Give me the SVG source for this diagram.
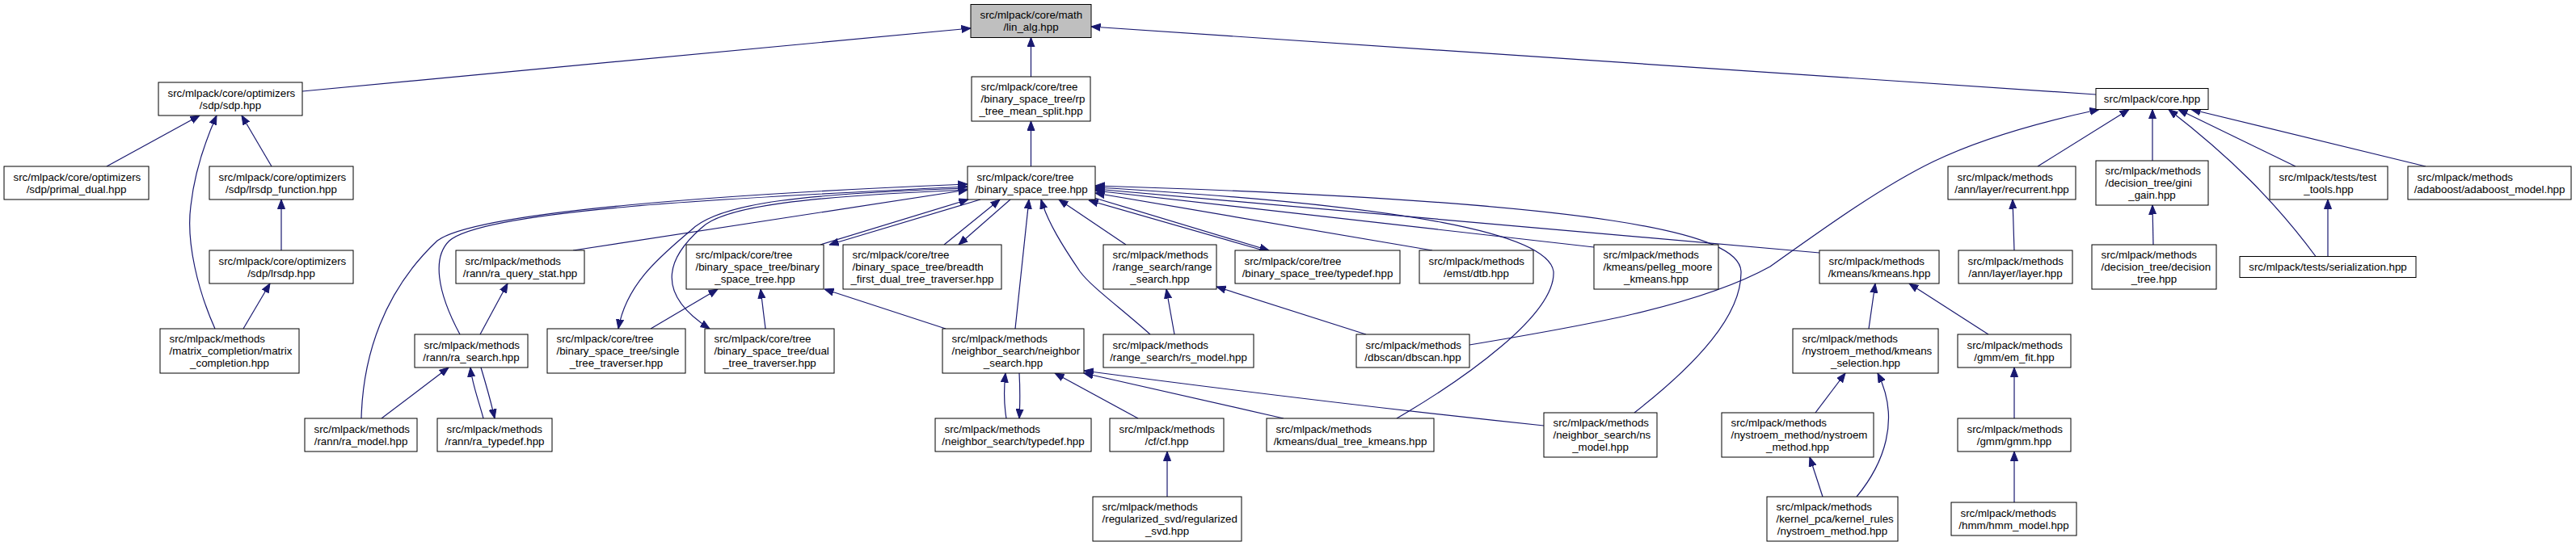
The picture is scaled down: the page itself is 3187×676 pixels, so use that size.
<svg xmlns="http://www.w3.org/2000/svg" width="3187" height="676" viewBox="0 0 3187 676">
<style>
.e{fill:none;stroke:#191970;stroke-width:1.2;marker-end:url(#a)}
rect{fill:#fff;stroke:#000;stroke-width:1}
#lin_alg rect{fill:#bfbfbf}
text{font-family:"Liberation Sans",Helvetica,Arial,sans-serif;font-size:13.33px;fill:#000}
.c{text-anchor:middle}
</style>
<defs>
<marker id="a" viewBox="0 0 12 10" refX="11.5" refY="5" markerWidth="12" markerHeight="10" markerUnits="userSpaceOnUse" orient="auto"><path d="M0,0.5 L11.5,5 L0,9.5 z" fill="#191970" stroke="#191970" stroke-width="1"/></marker>
</defs>
<rect x="0" y="0" width="3187" height="676" style="fill:#fff;stroke:none"/>
<g id="edges">
<path class="e" d="M374,113 L1201,35"/>
<path class="e" d="M1275.5,95 L1275.5,46.5"/>
<path class="e" d="M2593,117 L1350,33"/>
<path class="e" d="M1275.5,206 L1275.5,150"/>
<path class="e" d="M132,206 L247,143"/>
<path class="e" d="M266,407 C245,360 230,300 236,255 C241,210 256,170 268,143"/>
<path class="e" d="M336,206 L299,143"/>
<path class="e" d="M348,310 L348,247"/>
<path class="e" d="M301,407 L334,351"/>
<path class="e" d="M709,310 L1197,235"/>
<path class="e" d="M569,414 C540,360 535,318 556,298 C600,260 900,245 1197,231"/>
<path class="e" d="M447,518 C449,440 475,360 541,298 C590,262 900,240 1197,228"/>
<path class="e" d="M594,414 L628,351"/>
<path class="e" d="M472,518 L555,455"/>
<path class="e" d="M598,518 C592,495 584,475 582,455"/>
<path class="e" d="M595,455 C601,475 607,495 612,518"/>
<path class="e" d="M805,407 L888,358"/>
<path class="e" d="M1197,233 C1000,240 890,250 855,285 C820,315 775,350 765,407"/>
<path class="e" d="M1197,235 C1000,243 895,255 868,282 C830,315 805,360 878,407"/>
<path class="e" d="M947,407 L941,358"/>
<path class="e" d="M1015,303 L1198,247"/>
<path class="e" d="M1213,247 L1026,303"/>
<path class="e" d="M1168,303 L1237,247"/>
<path class="e" d="M1250,247 L1186,303"/>
<path class="e" d="M1256,407 L1273,247"/>
<path class="e" d="M1423,414 C1385,380 1350,355 1336,336 C1315,305 1296,275 1288,247"/>
<path class="e" d="M1393,303 L1310,247"/>
<path class="e" d="M1563,310 L1347,248"/>
<path class="e" d="M1354,245 L1570,310"/>
<path class="e" d="M1772,310 L1355,239"/>
<path class="e" d="M1972,306 L1355,236"/>
<path class="e" d="M2251,313 L1355,234"/>
<path class="e" d="M2022,511 C2100,450 2155,390 2154,336 C2152,290 2000,250 1355,230"/>
<path class="e" d="M1728,518 C1810,470 1925,390 1922,336 C1915,290 1750,255 1355,232"/>
<path class="e" d="M1690,414 L1505,355"/>
<path class="e" d="M1818,427 C1950,405 2100,380 2190,330 C2260,280 2330,230 2392,200 C2450,172 2520,152 2597,135.5"/>
<path class="e" d="M1408,518 L1305,462"/>
<path class="e" d="M1245,518 C1242,500 1242,480 1244,462"/>
<path class="e" d="M1261,462 C1262,480 1262,500 1261,518"/>
<path class="e" d="M1588,518 L1341,462"/>
<path class="e" d="M1910,527 C1700,505 1500,480 1341,459"/>
<path class="e" d="M1170,407 L1020,358"/>
<path class="e" d="M1444,615 L1444,559"/>
<path class="e" d="M1453,414 L1443,358"/>
<path class="e" d="M2312,407 L2320,351"/>
<path class="e" d="M2246,511 L2283,462"/>
<path class="e" d="M2255,615 L2239,566"/>
<path class="e" d="M2297,615 C2330,575 2352,520 2323,462"/>
<path class="e" d="M2460,414 L2362,351"/>
<path class="e" d="M2492,518 L2492,455"/>
<path class="e" d="M2492,622 L2492,559"/>
<path class="e" d="M2492,310 L2490,247"/>
<path class="e" d="M2664,303 L2663,254"/>
<path class="e" d="M2880,317.5 L2880,247"/>
<path class="e" d="M2865,317.5 C2815,250 2760,195 2683,135.5"/>
<path class="e" d="M2521,206 L2634,135.5"/>
<path class="e" d="M2663,199 L2663,135.5"/>
<path class="e" d="M2840,206 L2695,135.5"/>
<path class="e" d="M3001,206 L2711,135.5"/>
</g>
<g id="lin_alg"><rect x="1201" y="5.5" width="149" height="41"/><text x="1212.5" y="23">src/mlpack/core/math</text><text class="c" x="1275.5" y="38">/lin_alg.hpp</text></g>
<g id="sdp"><rect x="196" y="102" width="178" height="41"/><text x="207.5" y="119.5">src/mlpack/core/optimizers</text><text class="c" x="285" y="134.5">/sdp/sdp.hpp</text></g>
<g id="rp_tree"><rect x="1202" y="95" width="147" height="55"/><text x="1213.5" y="112">src/mlpack/core/tree</text><text x="1213.5" y="127">/binary_space_tree/rp</text><text class="c" x="1275.5" y="142">_tree_mean_split.hpp</text></g>
<g id="core"><rect x="2593" y="109.5" width="139" height="26"/><text class="c" x="2662.5" y="127">src/mlpack/core.hpp</text></g>
<g id="primal_dual"><rect x="5" y="206" width="179" height="41"/><text x="16.5" y="223.5">src/mlpack/core/optimizers</text><text class="c" x="94.5" y="238.5">/sdp/primal_dual.hpp</text></g>
<g id="lrsdp_function"><rect x="259" y="206" width="178" height="41"/><text x="270.5" y="223.5">src/mlpack/core/optimizers</text><text class="c" x="348" y="238.5">/sdp/lrsdp_function.hpp</text></g>
<g id="bst"><rect x="1197" y="206" width="158" height="41"/><text x="1208.5" y="223.5">src/mlpack/core/tree</text><text class="c" x="1276" y="238.5">/binary_space_tree.hpp</text></g>
<g id="recurrent"><rect x="2410" y="206" width="158" height="41"/><text x="2421.5" y="223.5">src/mlpack/methods</text><text class="c" x="2489" y="238.5">/ann/layer/recurrent.hpp</text></g>
<g id="gini_gain"><rect x="2593" y="199" width="139" height="55"/><text x="2604.5" y="216">src/mlpack/methods</text><text x="2604.5" y="231">/decision_tree/gini</text><text class="c" x="2662.5" y="246">_gain.hpp</text></g>
<g id="test_tools"><rect x="2808" y="206" width="146" height="41"/><text x="2819.5" y="223.5">src/mlpack/tests/test</text><text class="c" x="2881" y="238.5">_tools.hpp</text></g>
<g id="adaboost_model"><rect x="2979" y="206" width="202" height="41"/><text x="2990.5" y="223.5">src/mlpack/methods</text><text class="c" x="3080" y="238.5">/adaboost/adaboost_model.hpp</text></g>
<g id="lrsdp"><rect x="259" y="310" width="178" height="41"/><text x="270.5" y="327.5">src/mlpack/core/optimizers</text><text class="c" x="348" y="342.5">/sdp/lrsdp.hpp</text></g>
<g id="ra_query_stat"><rect x="564" y="310" width="159" height="41"/><text x="575.5" y="327.5">src/mlpack/methods</text><text class="c" x="643.5" y="342.5">/rann/ra_query_stat.hpp</text></g>
<g id="bst_bst"><rect x="849" y="303" width="170" height="55"/><text x="860.5" y="320">src/mlpack/core/tree</text><text x="860.5" y="335">/binary_space_tree/binary</text><text class="c" x="934" y="350">_space_tree.hpp</text></g>
<g id="breadth_first"><rect x="1043" y="303" width="196" height="55"/><text x="1054.5" y="320">src/mlpack/core/tree</text><text x="1054.5" y="335">/binary_space_tree/breadth</text><text class="c" x="1141" y="350">_first_dual_tree_traverser.hpp</text></g>
<g id="range_search"><rect x="1365" y="303" width="140" height="55"/><text x="1376.5" y="320">src/mlpack/methods</text><text x="1376.5" y="335">/range_search/range</text><text class="c" x="1435" y="350">_search.hpp</text></g>
<g id="bst_typedef"><rect x="1528" y="310" width="204" height="41"/><text x="1539.5" y="327.5">src/mlpack/core/tree</text><text class="c" x="1630" y="342.5">/binary_space_tree/typedef.hpp</text></g>
<g id="dtb"><rect x="1756" y="310" width="141" height="41"/><text x="1767.5" y="327.5">src/mlpack/methods</text><text class="c" x="1826.5" y="342.5">/emst/dtb.hpp</text></g>
<g id="pelleg_moore"><rect x="1972" y="303" width="154" height="55"/><text x="1983.5" y="320">src/mlpack/methods</text><text x="1983.5" y="335">/kmeans/pelleg_moore</text><text class="c" x="2049" y="350">_kmeans.hpp</text></g>
<g id="kmeans"><rect x="2251" y="310" width="148" height="41"/><text x="2262.5" y="327.5">src/mlpack/methods</text><text class="c" x="2325" y="342.5">/kmeans/kmeans.hpp</text></g>
<g id="layer"><rect x="2423" y="310" width="141" height="41"/><text x="2434.5" y="327.5">src/mlpack/methods</text><text class="c" x="2493.5" y="342.5">/ann/layer/layer.hpp</text></g>
<g id="decision_tree"><rect x="2588" y="303" width="154" height="55"/><text x="2599.5" y="320">src/mlpack/methods</text><text x="2599.5" y="335">/decision_tree/decision</text><text class="c" x="2665" y="350">_tree.hpp</text></g>
<g id="serialization"><rect x="2771" y="317.5" width="218" height="26"/><text class="c" x="2880" y="335">src/mlpack/tests/serialization.hpp</text></g>
<g id="matrix_completion"><rect x="198" y="407" width="172" height="55"/><text x="209.5" y="424">src/mlpack/methods</text><text x="209.5" y="439">/matrix_completion/matrix</text><text class="c" x="284" y="454">_completion.hpp</text></g>
<g id="ra_search"><rect x="513" y="414" width="140" height="41"/><text x="524.5" y="431.5">src/mlpack/methods</text><text class="c" x="583" y="446.5">/rann/ra_search.hpp</text></g>
<g id="single_tree"><rect x="677" y="407" width="171" height="55"/><text x="688.5" y="424">src/mlpack/core/tree</text><text x="688.5" y="439">/binary_space_tree/single</text><text class="c" x="762.5" y="454">_tree_traverser.hpp</text></g>
<g id="dual_tree"><rect x="872" y="407" width="160" height="55"/><text x="883.5" y="424">src/mlpack/core/tree</text><text x="883.5" y="439">/binary_space_tree/dual</text><text class="c" x="952" y="454">_tree_traverser.hpp</text></g>
<g id="neighbor_search"><rect x="1166" y="407" width="175" height="55"/><text x="1177.5" y="424">src/mlpack/methods</text><text x="1177.5" y="439">/neighbor_search/neighbor</text><text class="c" x="1253.5" y="454">_search.hpp</text></g>
<g id="rs_model"><rect x="1365" y="414" width="186" height="41"/><text x="1376.5" y="431.5">src/mlpack/methods</text><text class="c" x="1458" y="446.5">/range_search/rs_model.hpp</text></g>
<g id="dbscan"><rect x="1678" y="414" width="140" height="41"/><text x="1689.5" y="431.5">src/mlpack/methods</text><text class="c" x="1748" y="446.5">/dbscan/dbscan.hpp</text></g>
<g id="kmeans_selection"><rect x="2218" y="407" width="180" height="55"/><text x="2229.5" y="424">src/mlpack/methods</text><text x="2229.5" y="439">/nystroem_method/kmeans</text><text class="c" x="2308" y="454">_selection.hpp</text></g>
<g id="em_fit"><rect x="2422" y="414" width="140" height="41"/><text x="2433.5" y="431.5">src/mlpack/methods</text><text class="c" x="2492" y="446.5">/gmm/em_fit.hpp</text></g>
<g id="ra_model"><rect x="377" y="518" width="139" height="41"/><text x="388.5" y="535.5">src/mlpack/methods</text><text class="c" x="446.5" y="550.5">/rann/ra_model.hpp</text></g>
<g id="ra_typedef"><rect x="541" y="518" width="142" height="41"/><text x="552.5" y="535.5">src/mlpack/methods</text><text class="c" x="612" y="550.5">/rann/ra_typedef.hpp</text></g>
<g id="ns_typedef"><rect x="1157" y="518" width="193" height="41"/><text x="1168.5" y="535.5">src/mlpack/methods</text><text class="c" x="1253.5" y="550.5">/neighbor_search/typedef.hpp</text></g>
<g id="cf"><rect x="1373" y="518" width="141" height="41"/><text x="1384.5" y="535.5">src/mlpack/methods</text><text class="c" x="1443.5" y="550.5">/cf/cf.hpp</text></g>
<g id="dual_tree_kmeans"><rect x="1567" y="518" width="207" height="41"/><text x="1578.5" y="535.5">src/mlpack/methods</text><text class="c" x="1670.5" y="550.5">/kmeans/dual_tree_kmeans.hpp</text></g>
<g id="ns_model"><rect x="1910" y="511" width="140" height="55"/><text x="1921.5" y="528">src/mlpack/methods</text><text x="1921.5" y="543">/neighbor_search/ns</text><text class="c" x="1980" y="558">_model.hpp</text></g>
<g id="nystroem_method"><rect x="2130" y="511" width="188" height="55"/><text x="2141.5" y="528">src/mlpack/methods</text><text x="2141.5" y="543">/nystroem_method/nystroem</text><text class="c" x="2224" y="558">_method.hpp</text></g>
<g id="gmm"><rect x="2422" y="518" width="140" height="41"/><text x="2433.5" y="535.5">src/mlpack/methods</text><text class="c" x="2492" y="550.5">/gmm/gmm.hpp</text></g>
<g id="regularized_svd"><rect x="1352" y="615" width="184" height="55"/><text x="1363.5" y="632">src/mlpack/methods</text><text x="1363.5" y="647">/regularized_svd/regularized</text><text class="c" x="1444" y="662">_svd.hpp</text></g>
<g id="kernel_rules_nystroem"><rect x="2186" y="615" width="162" height="55"/><text x="2197.5" y="632">src/mlpack/methods</text><text x="2197.5" y="647">/kernel_pca/kernel_rules</text><text class="c" x="2267" y="662">/nystroem_method.hpp</text></g>
<g id="hmm_model"><rect x="2414" y="622" width="155" height="41"/><text x="2425.5" y="639.5">src/mlpack/methods</text><text class="c" x="2491.5" y="654.5">/hmm/hmm_model.hpp</text></g>
</svg>
